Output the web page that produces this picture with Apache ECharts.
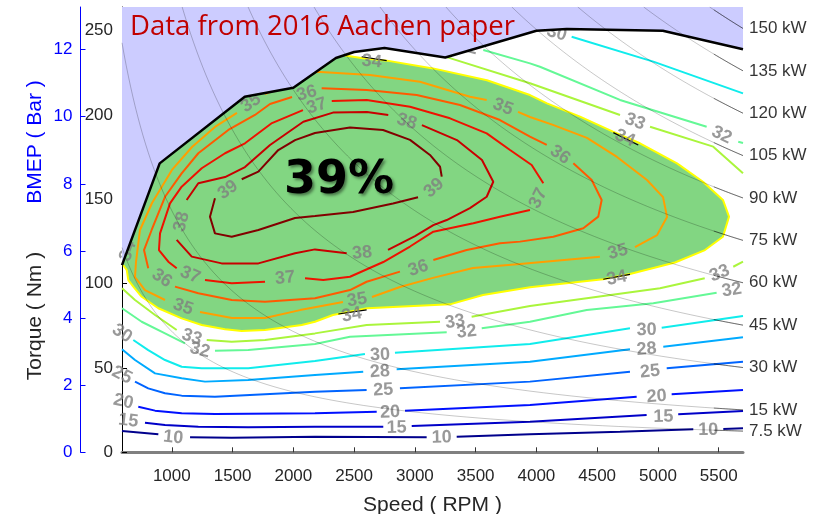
<!DOCTYPE html>
<html>
<head>
<meta charset="utf-8">
<script src="https://cdn.jsdelivr.net/npm/echarts@6/dist/echarts.min.js"></script>
<style>
html,body{margin:0;padding:0;background:#fff;}
#chart{width:825px;height:514px;}
</style>
</head>
<body>
<div id="chart"></div>
<script>
// ---- axes ----
const speedMin = 590, speedMax = 5700;
const torqueMax = 264;
const displacementL = 2.5;               // BMEP[bar] = 4*pi*T / (Vd[L]*100)
const speedTicks = [1000, 1500, 2000, 2500, 3000, 3500, 4000, 4500, 5000, 5500];
const torqueTicks = [0, 50, 100, 150, 200, 250];
const bmepTicks = [0, 2, 4, 6, 8, 10, 12];
const powerKW = [7.5, 15, 30, 45, 60, 75, 90, 105, 120, 135, 150];

// ---- full-load (max torque) curve ----
const maxTorqueRpm = [590, 900, 1600, 2000, 2350, 2500, 2750, 3250, 4000, 4250, 5040, 5700];
const maxTorqueNm  = [111, 171.3, 210.8, 216.1, 233.8, 237.3, 239.7, 234.1, 249.9, 250.9, 249.9, 238.9];

// ---- 34 % island boundary (from where it leaves the full-load curve) ----
const zone34 = [[2425,235.2],[2573,233.6],[2771,232.2],[3149,227.6],[3593,220.6],[3947,211.8],[4087,206.9],
  [4359,199.0],[4630,190.1],[4852,183.2],[5157,171.3],[5371,160.4],[5535,149.6],[5585,139.7],[5535,127.8],
  [5387,119.9],[5140,112.5],[4770,105.7],[4548,102.6],[3947,97.8],[3561,93.3],[3289,87.7],[2606,85.4],
  [2326,81.4],[2178,77.4],[2069,75.5],[1767,72.5],[1575,71.9],[1438,72.9],[1246,75.5],[1081,79.4],
  [889,85.4],[752,92.2],[683,98.2],[642,102.1],[629,108.1],[600,111]];
const label34 = [[639,119.3],[2645,231.6],[4729,186.2],[4661,103.2],[2480,81.4]];
// short dark strokes of the 34 contour under its labels
const marks34 = [[[2370,82.0],[2603,84.4]], [[2562,234.5],[2768,232.2]], [[4633,189.5],[4838,182.2]], [[4550,102.6],[4770,105.5]]];

// ---- efficiency contours: [rpm, Nm], null = gap for a label ----
const c10 = [[590,12.6],[889,10.7],null,[1150,8.9],[1493,8.7],[2178,9.2],[3097,8.9],null,[3344,9.2],[3947,10.7],[4688,12.2],[5291,13.6],null,[5538,13.8],[5700,14.2]];
const l10 = [[1012,8.7],[3221,8.7],[5414,13.2]];
const c15 = [[779,17.5],[944,16.2],[1218,15.2],[1629,14.8],[2178,15.2],[2740,15.2],null,[2974,15.6],[3947,18.1],[4907,22.1],null,[5167,22.5],[5700,24.5]];
const l15 = [[642,18.7],[2850,14.6],[5044,21.1]];
const c20 = [[724,27.0],[862,24.7],[1081,23.1],[1355,22.7],[2178,23.1],[2686,24.1],null,[2919,24.7],[3947,28.0],[4825,33.0],null,[5113,34.4],[5700,36.9]];
const l20 = [[601,30.0],[2795,23.7],[4990,33.0]];
const c25 = [[697,41.9],[806,37.9],[944,35.0],[1081,33.6],[1355,33.0],[2178,35.9],[2603,36.9],null,[2877,37.9],[3947,41.9],[4770,47.8],null,[5072,49.8],[5700,53.7]];
const l25 = [[590,45.8],[2740,36.9],[4935,47.8]];
const c28 = [[590,61.1],[697,54.7],[862,46.8],[1081,43.9],[1273,41.9],[1629,42.9],[2178,45.8],[2575,47.8],null,[2850,49.2],[3947,53.7],[4770,61.1],null,[5044,62.6],[5700,68.2]];
const l28 = [[2713,47.8],[4907,61.1]];
const c30 = [[683,66.6],[806,60.6],[944,54.7],[1081,50.7],[1246,49.8],[1629,49.8],[2178,54.1],[2589,58.3],null,[2836,59.0],[3947,64.2],[4770,73.5],null,[5031,73.9],[5700,80.8]];
const l30 = [[590,70.5],[2713,57.7],[4907,72.5]];
const c30hi = [[4290,246.4],[4962,231.6],[5700,212.8]];
const l30hi = [[4167,248.4]];
const c32 = [[590,85.4],[752,77.4],[944,70.5],[1108,64.6],null,[1355,60.2],[1629,60.6],[2178,64.2],[2466,68.5],[3262,71.1],null,[3550,73.5],[3947,77.4],[4414,84.4],[4962,88.3],[5483,94.6]];
const l32 = [[1232,60.6],[3426,71.5],[5607,96.2]];
const c32hi = [[3563,238.5],[3947,230.6],[4029,228.6],[4688,208.9],[5401,193.0],null,[5661,184.1],[5700,183.4]];
const l32hi = [[3437,240.3],[5525,188.1]];
const c33 = [[590,97.2],[697,90.3],[862,81.4],[1040,72.5],null,[1287,66.6],[1493,65.6],[1767,66.6],[2178,70.5],[2603,75.5],[3207,77.4],null,[3467,80.4],[3947,86.7],[4414,91.3],[5017,97.2],[5385,103.2],null,[5620,110.0],[5700,113.0]];
const l33 = [[1164,68.2],[3330,77.4],[5508,106.1]];
const c33hi = [[3262,234.3],[3947,218.8],[4688,200.0],null,[4935,193.0],[5455,181.2],[5700,165.4]];
const l33hi = [[4811,196.0]];
const c35 = [[3849,201.8],[3947,198.8],[4136,194.1],[4416,186.4],[4663,175.1],[4910,161.4],[5042,151.3],[5075,139.5],[4993,128.8],[4811,121.7],null,
  [4523,116.0],[3865,111.7],[3478,109.3],[3149,103.4],[2877,98.0],[2647,92.1],null,
  [2408,89.1],[2055,84.3],[1767,79.6],[1495,79.6],[1232,83.2],null,
  [944,90.3],[779,96.2],[697,103.9],[705,112.7],[738,131.8],[837,147.8],[1001,167.4],[1166,181.0],[1355,192.9],[1536,201.2],null,
  [1767,212.4],[1972,218.4],[2192,225.6],[2631,223.7],[3042,219.7],[3453,210.8],[3591,208.9],null,[3849,201.8]];
const l35 = [[4671,118.8],[2524,90.3],[1092,86.1],[1651,207.1],[3725,204.7]];
const c36 = [[2233,215.8],[2604,214.8],[3015,211.8],[3371,205.9],[3700,197.0],[3947,187.1],[4085,182.2],null,
  [4304,171.3],[4455,161.4],[4537,149.6],[4509,139.7],[4386,132.8],[4139,127.8],[3865,124.9],[3700,123.9],[3426,119.9],[3152,114.0],null,
  [2877,107.1],[2603,101.1],[2466,96.2],[2178,91.3],[1767,89.3],[1493,90.3],[1218,94.3],[1026,98.2],null,
  [806,109.1],[771,119.9],[834,131.8],[944,151.5],[1081,165.4],[1218,177.3],[1465,191.1],[1684,200.0],[1808,206.5],[1989,210.6],null,[2233,215.8]];
const l36 = [[4194,176.3],[3028,109.1],[917,103.2],[2110,212.8]];
const c37 = [[2316,208.3],[2604,208.9],[2960,204.9],[3289,198.0],[3591,189.1],[3783,179.2],[3961,170.3],[4057,159.5],null,
  [3947,143.6],[3700,139.7],[3481,135.8],[3152,130.8],[2960,122.0],[2740,112.8],[2466,104.1],[2246,102.1],[2096,103.2],null,
  [1767,101.1],[1493,100.2],[1273,102.1],null,
  [1040,109.1],[971,113.0],[894,119.9],[903,129.8],[985,147.6],[1081,157.5],[1246,168.4],[1438,177.3],[1602,183.2],[1824,195.2],[2079,202.9],null,[2316,208.3]];
const l37 = [[4016,150.6],[1931,103.3],[1150,105.1],[2192,205.3]];
const c38 = [[1122,149.6],[1218,159.5],[1438,163.2],[1602,169.1],[1808,182.2],[2082,196.0],[2326,201.4],[2606,201.7],[2781,200.0],null,
  [3058,194.0],[3346,185.1],[3552,173.3],[3645,160.4],[3591,151.5],[3453,144.8],[3262,137.7],[3152,134.7],[3001,128.2],[2779,120.0],null,
  [2439,118.0],[2178,120.3],[2014,118.0],[1712,112.0],[1410,112.0],[1164,116.0],[1040,125.9],null,[1122,149.6]];
const l38 = [[2933,196.0],[2565,118.2],[1081,136.7]];
const c39 = [[1575,161.9],[1712,166.4],[1876,179.2],[2014,185.1],[2178,189.3],[2466,192.6],[2738,191.1],[2960,185.2],[3124,176.3],[3207,169.3],[3221,163.4],null,
  [3026,151.2],[2820,147.5],[2491,142.5],[2178,140.1],[2014,138.9],[1712,131.8],[1493,127.8],[1355,129.8],[1314,139.7],[1355,150.6],null,[1575,161.9]];
const l39 = [[3157,156.7],[1462,155.5]];

const contours = [
  {level: 10, color: '#00008c', pts: c10,   labels: l10},
  {level: 15, color: '#0000c8', pts: c15,   labels: l15},
  {level: 20, color: '#0010ff', pts: c20,   labels: l20},
  {level: 25, color: '#0064ff', pts: c25,   labels: l25},
  {level: 28, color: '#00aaff', pts: c28,   labels: l28},
  {level: 30, color: '#10ecec', pts: c30,   labels: l30},
  {level: 30, color: '#10ecec', pts: c30hi, labels: l30hi},
  {level: 32, color: '#64f896', pts: c32,   labels: l32},
  {level: 32, color: '#64f896', pts: c32hi, labels: l32hi},
  {level: 33, color: '#aaf53c', pts: c33,   labels: l33},
  {level: 33, color: '#aaf53c', pts: c33hi, labels: l33hi},
  {level: 35, color: '#ff9f00', pts: c35,   labels: l35},
  {level: 36, color: '#ff5a00', pts: c36,   labels: l36},
  {level: 37, color: '#ee1200', pts: c37,   labels: l37},
  {level: 38, color: '#c80000', pts: c38,   labels: l38},
  {level: 39, color: '#820000', pts: c39,   labels: l39}
];

const sans = '"Liberation Sans", Arial, Helvetica, sans-serif';
const fullLoad = maxTorqueRpm.map((r, i) => [r, maxTorqueNm[i]]);
const islandOutline = fullLoad.filter(p => p[0] < zone34[0][0]).concat(zone34);

function splitSegments(pts) {
  const segs = []; let cur = [];
  pts.forEach(p => {
    if (p === null) { if (cur.length > 1) segs.push(cur); cur = []; }
    else cur.push(p);
  });
  if (cur.length > 1) segs.push(cur);
  return segs;
}

const chart = echarts.init(document.getElementById('chart'), null, {renderer: 'canvas'});

function polygonSeries(name, pts, fill, z) {
  return {
    type: 'custom', name: name, coordinateSystem: 'cartesian2d', z: z, silent: true,
    data: [[speedMin, 0]],
    renderItem: function (params, api) {
      return {type: 'polygon', shape: {points: pts.map(p => api.coord(p))}, style: {fill: fill, stroke: null}};
    }
  };
}

function lineSeries(data, color, width, z) {
  return {type: 'line', data: data, showSymbol: false, symbol: 'none', silent: true, z: z,
    lineStyle: {color: color, width: width}};
}

function buildOption(rotations) {
  const series = [];
  series.push(polygonSeries('island', islandOutline, '#82d682', 1));
  series.push(lineSeries(zone34, '#ffff00', 2, 2));
  marks34.forEach(m => series.push(lineSeries(m, '#000', 1.2, 2)));
  contours.forEach(c => {
    splitSegments(c.pts).forEach(seg => series.push(lineSeries(seg, c.color, 2, 2)));
  });
  // contour labels
  const labelItems = [];
  let k = 0;
  contours.forEach(c => {
    c.labels.forEach(p => {
      labelItems.push({value: p, name: String(c.level), label: {rotate: rotations ? rotations[k] : 0}});
      k++;
    });
  });
  label34.forEach(p => {
    labelItems.push({value: p, name: '34', label: {rotate: rotations ? rotations[k] : 0}});
    k++;
  });
  series.push({type: 'scatter', data: labelItems, symbolSize: 0, silent: true, z: 3, clip: false,
    label: {show: true, position: 'inside', formatter: p => p.name, color: '#808080',
      fontSize: 18, fontWeight: 'bold', fontFamily: sans}});
  // region above full-load curve
  series.push(polygonSeries('above', fullLoad.concat([[speedMax, torqueMax], [speedMin, torqueMax]]), '#ccccff', 4));
  // constant power lines
  powerKW.forEach(P => {
    const k9549 = 9549 * P;
    const n0 = Math.max(speedMin, k9549 / torqueMax);
    const pts = [];
    for (let i = 0; i <= 80; i++) {
      const n = n0 * Math.pow(speedMax / n0, i / 80);
      pts.push([n, k9549 / n]);
    }
    series.push(lineSeries(pts, 'rgba(0,0,0,0.28)', 0.8, 5));
    const tail = [];
    const t0 = Math.max(n0, 5460);
    for (let i = 0; i <= 10; i++) {
      const n = t0 + (speedMax - t0) * i / 10;
      tail.push([n, k9549 / n]);
    }
    series.push(lineSeries(tail, 'rgba(0,0,0,0.5)', 0.9, 5));
  });
  series.push({type: 'scatter', symbolSize: 0, silent: true, z: 6, clip: false,
    data: powerKW.map(P => ({value: [speedMax, 9549 * P / speedMax], name: P + ' kW'})),
    label: {show: true, position: 'right', distance: 6, formatter: p => p.name, color: '#000',
      fontSize: 17, fontFamily: sans}});
  // full-load curve
  series.push(lineSeries(fullLoad, '#000', 2.5, 6));

  return {
    animation: false,
    backgroundColor: '#fff',
    grid: {left: 122, top: 7, width: 621, height: 445.3, containLabel: false, outerBoundsMode: 'none'},
    xAxis: {
      type: 'value', min: speedMin, max: speedMax,
      name: 'Speed ( RPM )', nameLocation: 'middle', nameGap: 42,
      nameTextStyle: {fontSize: 21, color: '#262626', fontFamily: sans},
      axisLine: {show: true, onZero: false, lineStyle: {color: '#808080', width: 3}},
      axisTick: {show: true, inside: true, length: 5, customValues: speedTicks, lineStyle: {color: '#333', width: 1}},
      axisLabel: {customValues: speedTicks, formatter: v => String(v), color: '#262626', fontSize: 17, margin: 16, fontFamily: sans},
      splitLine: {show: false}
    },
    yAxis: [{
      type: 'value', min: 0, max: torqueMax, position: 'left',
      axisLine: {show: true, lineStyle: {color: '#000', width: 1}},
      axisTick: {show: true, inside: true, length: 5, customValues: torqueTicks, lineStyle: {color: '#000'}},
      axisLabel: {customValues: torqueTicks, formatter: v => String(v), color: '#262626', fontSize: 17, margin: 9, fontFamily: sans},
      splitLine: {show: false}
    }, {
      type: 'value', min: 0, max: torqueMax * 4 * Math.PI / (displacementL * 100), position: 'left', offset: 41.5,
      axisLine: {show: true, lineStyle: {color: '#0000ff', width: 1}},
      axisTick: {show: true, inside: true, length: 5, customValues: bmepTicks, lineStyle: {color: '#0000ff'}},
      axisLabel: {customValues: bmepTicks, formatter: v => String(v), color: '#0000ff', fontSize: 17, margin: 8, fontFamily: sans},
      splitLine: {show: false}
    }],
    graphic: [
      {type: 'text', x: 130, y: 27, z: 100,
        style: {text: 'Data from 2016 Aachen paper', fill: '#c00000', font: '27.5px "Open Sans", Lato, sans-serif',
          align: 'left', verticalAlign: 'middle'}},
      {type: 'text', x: 339, y: 181, z: 100,
        style: {text: '39%', fill: '#000', font: 'bold 46px "DejaVu Sans", Verdana, sans-serif',
          align: 'center', verticalAlign: 'middle',
          textShadowColor: 'rgba(0,0,0,0.45)', textShadowBlur: 3, textShadowOffsetX: 2, textShadowOffsetY: 2}},
      {type: 'text', x: 35, y: 316, rotation: Math.PI / 2, z: 100,
        style: {text: 'Torque ( Nm )', fill: '#262626', font: '21px ' + sans, align: 'center', verticalAlign: 'middle'}},
      {type: 'text', x: 35, y: 142, rotation: Math.PI / 2, z: 100,
        style: {text: 'BMEP ( Bar )', fill: '#0000ff', font: '21px ' + sans, align: 'center', verticalAlign: 'middle'}}
    ],
    series: series
  };
}

chart.setOption(buildOption(null));

// orient each label along its contour
function segDist(p, a, b) {
  const dx = b[0] - a[0], dy = b[1] - a[1];
  const L2 = dx * dx + dy * dy || 1e-9;
  let t = ((p[0] - a[0]) * dx + (p[1] - a[1]) * dy) / L2;
  t = Math.max(0, Math.min(1, t));
  const x = a[0] + t * dx - p[0], y = a[1] + t * dy - p[1];
  return Math.sqrt(x * x + y * y);
}
function labelAngle(pt, pts) {
  const toPx = q => chart.convertToPixel({gridIndex: 0}, q);
  const P = toPx(pt);
  const pix = pts.map(q => q ? toPx(q) : null);
  let best = Infinity, ang = 0;
  for (let i = 0; i < pix.length; i++) {
    if (!pix[i]) continue;
    let j = i + 1;
    if (j < pix.length && !pix[j]) j = i + 2;
    if (j >= pix.length || !pix[j]) continue;
    const d = segDist(P, pix[i], pix[j]);
    if (d < best) {
      best = d;
      ang = Math.atan2(-(pix[j][1] - pix[i][1]), pix[j][0] - pix[i][0]) * 180 / Math.PI;
    }
  }
  if (ang > 90) ang -= 180;
  if (ang < -90) ang += 180;
  return ang;
}
const rotations = [];
contours.forEach(c => c.labels.forEach(p => rotations.push(labelAngle(p, c.pts))));
label34.forEach(p => rotations.push(labelAngle(p, islandOutline)));
chart.setOption(buildOption(rotations), true);
</script>
</body>
</html>
